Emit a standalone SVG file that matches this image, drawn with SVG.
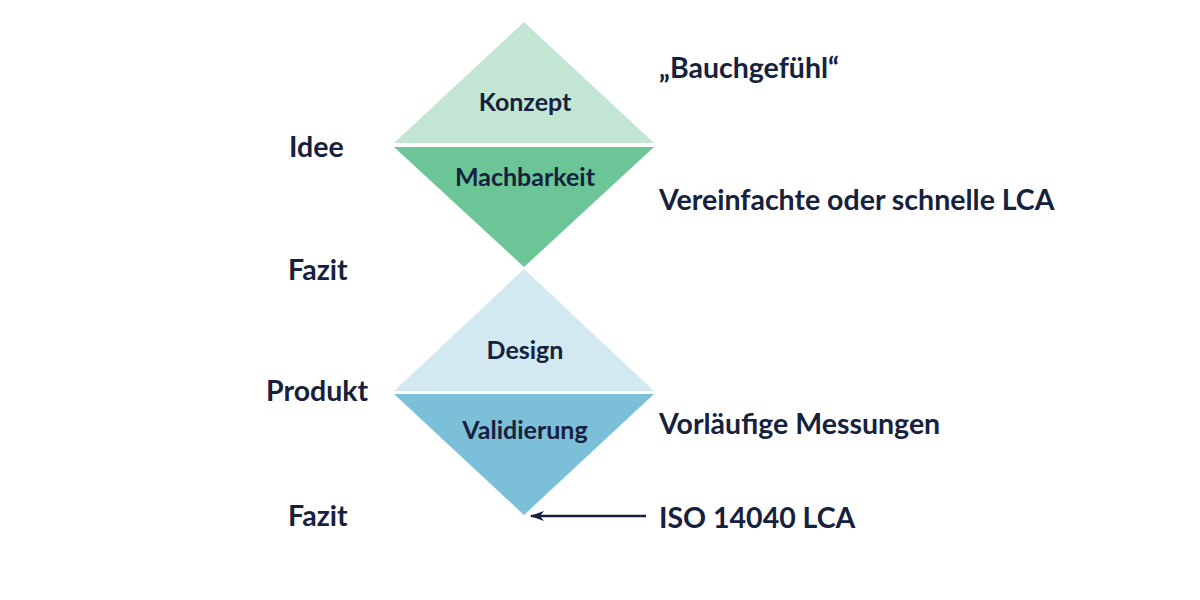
<svg xmlns="http://www.w3.org/2000/svg" width="1200" height="600" viewBox="0 0 1200 600">
<defs>
<style>
.t{font-family:Lato,"Liberation Sans",sans-serif;font-weight:bold;fill:#16213d}
.big{font-size:28.5px}
.in{font-size:25px;text-anchor:middle}
</style>
<marker id="ah" viewBox="0 0 14 12" refX="13" refY="6" markerWidth="14" markerHeight="12" markerUnits="userSpaceOnUse" orient="auto">
<path d="M0,1 L14,6 L0,11 L4,6 Z" fill="#16213d"/>
</marker>
</defs>
<rect width="1200" height="600" fill="#ffffff"/>
<g id="konzept">
<polygon points="524,22 654,143 394,143" fill="#c3e6d4"/>
<text class="t in" x="525" y="111">Konzept</text>
</g>
<g id="machbarkeit">
<polygon points="394,147 654,147 524,267" fill="#6cc597"/>
<text class="t in" x="525" y="186">Machbarkeit</text>
</g>
<g id="design">
<polygon points="524,269 654,391 394,391" fill="#d2e9f1"/>
<text class="t in" x="525" y="359">Design</text>
</g>
<g id="validierung">
<polygon points="394,394 654,394 524,515" fill="#7bbfd8"/>
<text class="t in" x="525" y="439">Validierung</text>
</g>
<g id="labels-left">
<text class="t big" x="289" y="157">Idee</text>
<text class="t big" x="288" y="280">Fazit</text>
<text class="t big" x="266" y="401">Produkt</text>
<text class="t big" x="288" y="526">Fazit</text>
</g>
<g id="labels-right">
<text class="t big" x="659" y="78">„Bauchgefühl“</text>
<text class="t big" x="659" y="210">Vereinfachte oder schnelle LCA</text>
<text class="t big" x="659" y="434">Vorläufige Messungen</text>
<text class="t big" x="659" y="528">ISO 14040 LCA</text>
</g>
<g id="connectors">
<line x1="646" y1="516" x2="531" y2="516" stroke="#16213d" stroke-width="2.5" marker-end="url(#ah)"/>
</g>
</svg>
